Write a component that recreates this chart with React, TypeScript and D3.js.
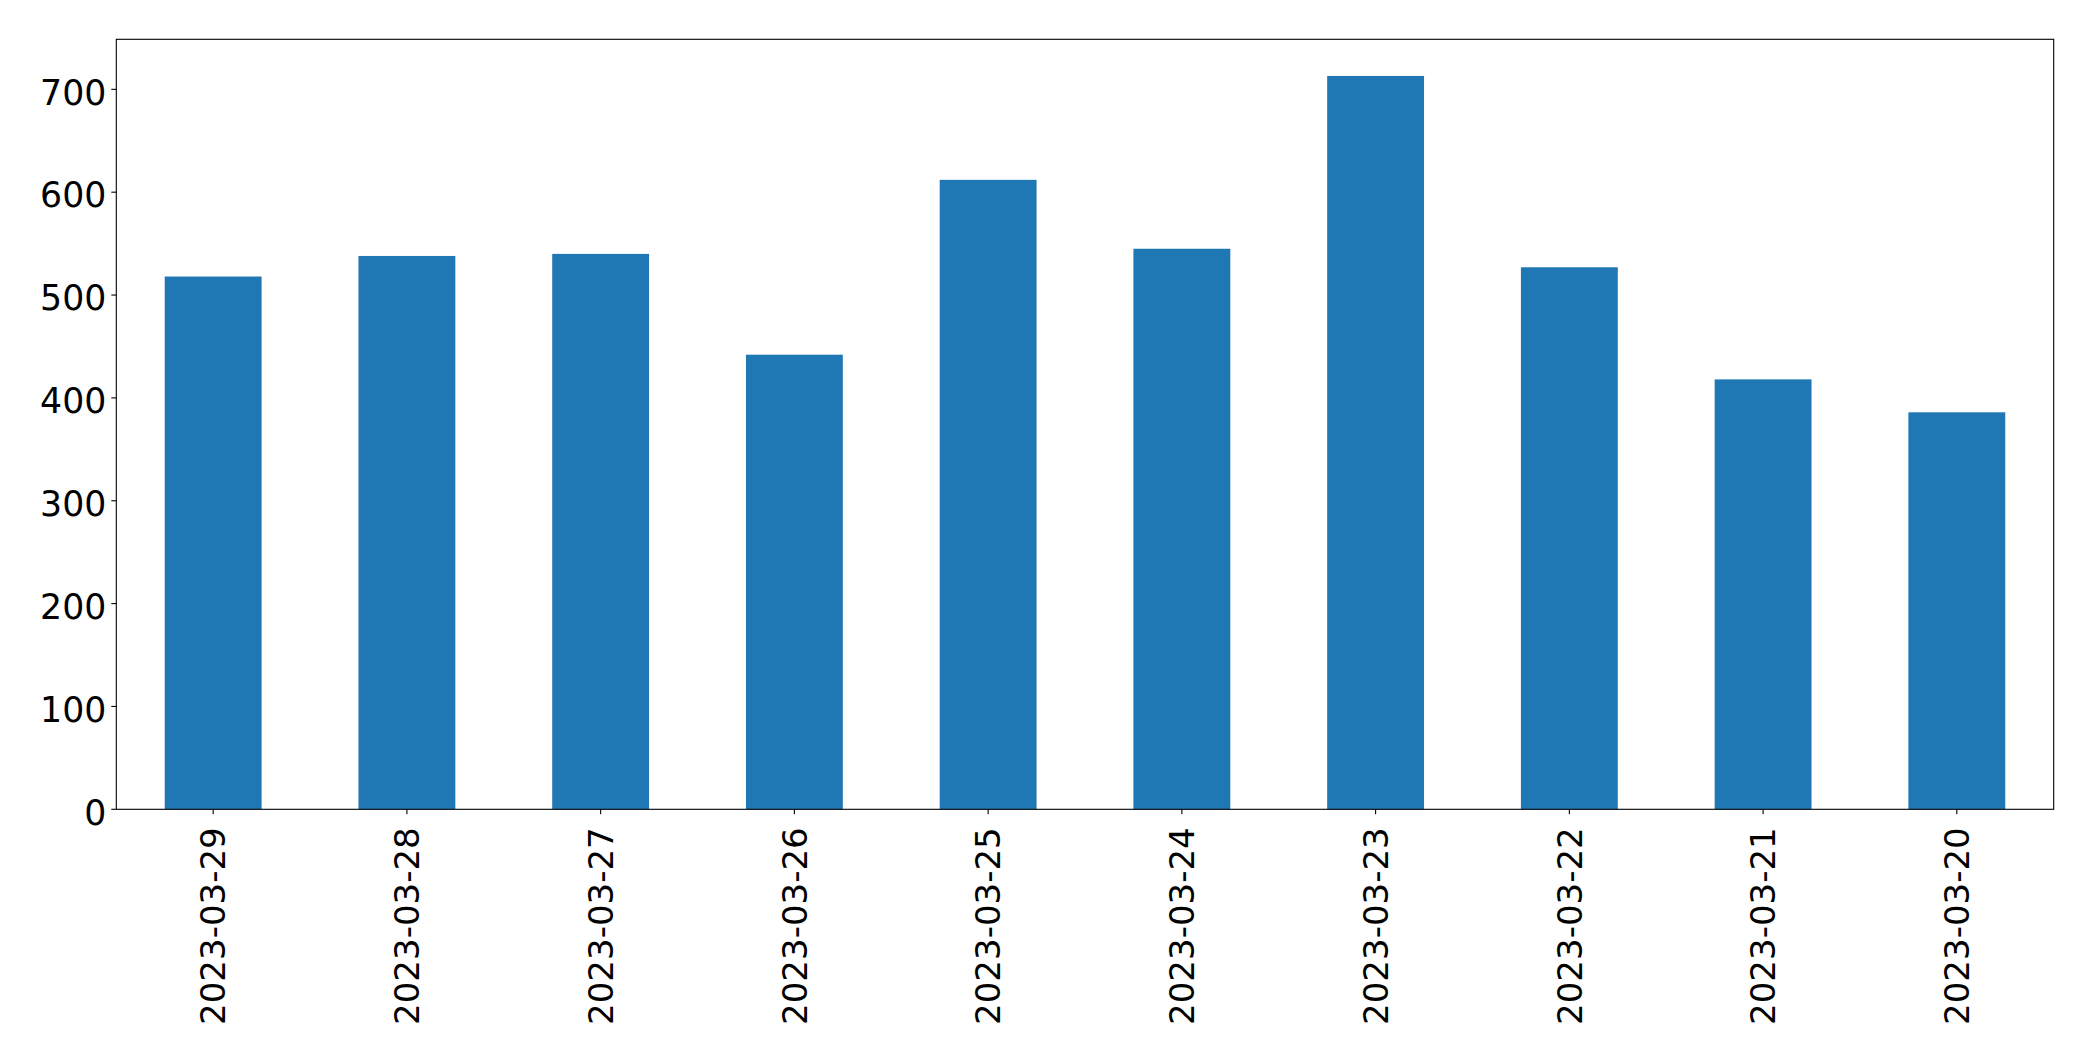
import React from "react";
import * as d3 from "d3";

const categories = [
  "2023-03-29", "2023-03-28", "2023-03-27", "2023-03-26", "2023-03-25",
  "2023-03-24", "2023-03-23", "2023-03-22", "2023-03-21", "2023-03-20",
];
const values = [518, 538, 540, 442, 612, 545, 713, 527, 418, 386];
const yTicks = [0, 100, 200, 300, 400, 500, 600, 700];

const W = 2093;
const H = 1061;
const M = { left: 116.3, right: 2053.7, top: 39.3, bottom: 809.3 };
const FONT = "DejaVu Sans, sans-serif";
const FS_Y = 34.7;
const FS_X = 34;

export default function App() {
  const x = d3
    .scaleBand<string>()
    .domain(categories)
    .range([M.left, M.right])
    .paddingInner(0.5)
    .paddingOuter(0.25);
  const yMax = (d3.max(values) as number) * 1.05;
  const y = d3.scaleLinear().domain([0, yMax]).range([M.bottom, M.top]);
  const bw = x.bandwidth();

  return (
    <svg
      width={W}
      height={H}
      style={{ position: "absolute", left: 0, top: 0, display: "block", background: "#fff" }}
    >
      <rect x={0} y={0} width={W} height={H} fill="#fff" />
      {categories.map((c, i) => (
        <rect
          key={c}
          x={x(c)}
          y={y(values[i])}
          width={bw}
          height={y(0) - y(values[i])}
          fill="#1f77b4"
        />
      ))}
      <rect
        x={M.left}
        y={M.top}
        width={M.right - M.left}
        height={M.bottom - M.top}
        fill="none"
        stroke="#000"
        strokeWidth={1.1}
      />
      {yTicks.map((t) => (
        <g key={t} transform={`translate(${M.left},${y(t)})`}>
          <line x1={-5} x2={0} stroke="#000" strokeWidth={1.1} />
          <text
            x={-10}
            dy="0.44em"
            textAnchor="end"
            fontFamily={FONT}
            fontSize={FS_Y}
            fill="#000"
          >
            {t}
          </text>
        </g>
      ))}
      {categories.map((c) => {
        const cx = (x(c) as number) + bw / 2;
        return (
          <g key={c} transform={`translate(${cx},${M.bottom})`}>
            <line y1={0} y2={5} stroke="#000" strokeWidth={1.1} />
            <text
              transform="translate(0,18) rotate(-90)"
              dy="0.36em"
              textAnchor="end"
              fontFamily={FONT}
              fontSize={FS_X}
              fill="#000"
            >
              {c}
            </text>
          </g>
        );
      })}
    </svg>
  );
}
